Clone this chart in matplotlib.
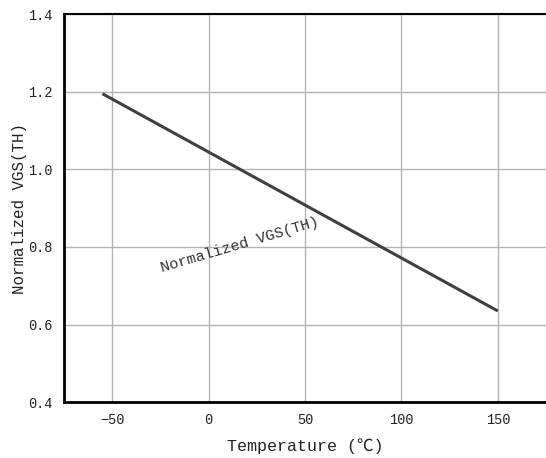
import matplotlib.pyplot as plt

# data
temp = [-55, 150]
vgs_norm = [1.195, 0.635]
x_ticks = [-50, 0, 50, 100, 150]
y_ticks = [0.4, 0.6, 0.8, 1.0, 1.2, 1.4]

fonts = ['Liberation Mono', 'Noto Sans CJK SC', 'DejaVu Sans']
plt.rcParams['font.family'] = fonts

fig = plt.figure(figsize=(5.46, 4.58), dpi=100)
ax = fig.add_axes([0.117, 0.122, 0.883, 0.847])

ax.plot(temp, vgs_norm, color='#404040', linewidth=2.2, solid_capstyle='butt')

ax.set_xlim(-75, 175)
ax.set_ylim(0.4, 1.4)
ax.set_xticks(x_ticks)
ax.set_yticks(y_ticks)
ax.set_yticklabels([f"{v:.1f}" for v in y_ticks])
ax.grid(True, color='#b4b4b4', linewidth=1)
ax.set_axisbelow(True)

ax.tick_params(length=0, labelsize=9.8, colors='#222222', pad=8)
for side in ['left', 'bottom']:
    ax.spines[side].set_linewidth(2)
ax.spines['top'].set_linewidth(1.5)
ax.spines['right'].set_visible(False)

ax.set_xlabel("Temperature (℃)", fontsize=12, color='#222222', labelpad=8)
ax.set_ylabel("Normalized VGS(TH)", fontsize=11.4, color='#222222', labelpad=1)

ax.text(16, 0.805, "Normalized VGS(TH)", rotation=16.5, fontsize=11,
        color='#333333', ha='center', va='center', rotation_mode='anchor')

fig.savefig("out.png", dpi=100)
